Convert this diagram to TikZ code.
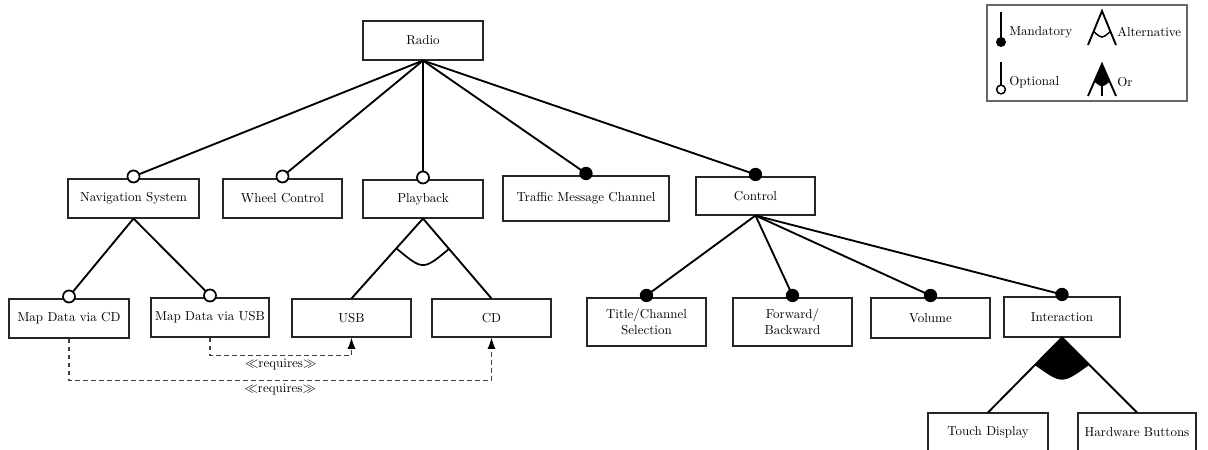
\documentclass[tikz,border=0pt]{standalone}
\usetikzlibrary{calc,arrows.meta}
\begin{document}
\begin{tikzpicture}[x=0.75pt,y=-0.75pt,
  every node/.style={font=\fontsize{9.75}{12}\selectfont},
  box/.style={draw=black!85, line width=0.8pt, inner sep=0pt, minimum width=89.25pt,
              minimum height=29.25pt, align=center, fill=white},
  link/.style={line width=1.4pt},
  opt/.style={draw, line width=1.3pt, fill=white, circle, inner sep=0pt, minimum size=9pt},
  man/.style={fill=black, circle, inner sep=0pt, minimum size=10pt},
  req/.style={draw=black!75, line width=0.8pt, dash pattern=on 3.5pt off 2.5pt,
              -{Latex[black,length=8.5pt,width=6pt]}},
  reqlabel/.style={below, inner sep=2pt}]

\useasboundingbox (0,0) rectangle (1208,450);
\clip (0,0) rectangle (1208,450);

% features
\node[box, minimum width=90pt] (radio) at (423,40.5) {Radio};
\node[box, minimum width=98.25pt] (nav) at (133.5,198.5) {Navigation System};
\node[box] (wheel) at (282.5,198.5) {Wheel Control};
\node[box, minimum width=90pt, minimum height=28.5pt] (play) at (423,199) {Playback};
\node[box, minimum width=124.5pt, minimum height=33.75pt] (tmc) at (586,198.5) {Traffic Message Channel};
\node[box, minimum height=28.5pt] (ctrl) at (755.5,196) {Control};

\node[box, minimum width=90pt] (mapcd) at (69,318.5) {Map Data via CD};
\node[box, minimum width=88.5pt] (mapusb) at (210,317.5) {Map Data via USB};
\node[box, minimum height=28.5pt] (usb) at (351.5,318) {USB};
\node[box, minimum height=28.5pt] (cd) at (491.5,318) {CD};
\node[box, minimum height=36pt] (title) at (646.5,322) {Title/Channel\\Selection};
\node[box, minimum height=36pt] (fwd) at (792.5,322) {Forward/\\Backward};
\node[box, minimum height=30pt] (vol) at (930.5,318) {Volume};
\node[box, minimum width=87pt, minimum height=30pt] (inter) at (1062,317) {Interaction};
\node[box, minimum width=90pt] (touch) at (988,432.5) {Touch Display};
\node[box, minimum width=88.5pt] (hw) at (1137,432.5) {Hardware Buttons};

% optional / mandatory children
\foreach \c/\p/\k in {nav/radio/opt, wheel/radio/opt, play/radio/opt, tmc/radio/man, ctrl/radio/man,
                      mapcd/nav/opt, mapusb/nav/opt,
                      title/ctrl/man, fwd/ctrl/man, vol/ctrl/man, inter/ctrl/man}
  \draw[link] (\p.south) -- ($(\c.north)+(0,-2)$) node[\k] (\c-dot) {};

% alternative group
\draw[link] (usb.north) -- (play.south) -- (cd.north);
\draw[line width=1.3pt] ($(play.south)!30pt!(usb.north)$) .. controls ($(play.south)+(0,52)$) .. ($(play.south)!30pt!(cd.north)$);

% or group
\fill (inter.south) -- ($(inter.south)!29pt!(touch.north)$) .. controls ($(inter.south)+(0,47)$) .. ($(inter.south)!29pt!(hw.north)$) -- cycle;
\draw[link] (touch.north) -- (inter.south) -- (hw.north);

% requires constraints
\draw[req] (mapusb.south) -- ++(0,18) -| node[reqlabel, pos=0.25] {$\ll$requires$\gg$} (usb.south);
\draw[req] (mapcd.south) -- ++(0,42) -| node[reqlabel, pos=0.25] {$\ll$requires$\gg$} (cd.south);

% legend
\draw[draw=black!60, line width=1.5pt] (987,5) rectangle (1187,101);
\draw[link] (1001,12) -- (1001,40);
\fill (1001,42) circle[radius=3.75pt];
\draw[link] (1001,62) -- (1001,86);
\draw[line width=1.1pt, fill=white] (1001,89.5) circle[radius=3.3pt];
\node[anchor=west, inner sep=0pt] (lmand) at (1009,32) {Mandatory};
\node[anchor=west, inner sep=0pt] (lopt) at (1009,82) {Optional};

\coordinate (alta) at (1102,11);
\coordinate (altl) at (1088,45);
\coordinate (altr) at (1116,45);
\draw[link] (altl) -- (alta) -- (altr);
\draw[line width=1.1pt] ($(alta)!0.6!(altl)$) .. controls ($(alta)+(0,28)$) .. ($(alta)!0.6!(altr)$);
\node[anchor=west, inner sep=0pt] (lalt) at (1117,32) {Alternative};

\coordinate (ora) at (1102,64);
\coordinate (orl) at (1088,96);
\coordinate (orr) at (1116,96);
\coordinate (orm) at (1102,96);
\fill (ora) -- ($(ora)!0.55!(orl)$) .. controls ($(ora)+(0,24)$) .. ($(ora)!0.55!(orr)$) -- cycle;
\draw[link] (orl) -- (ora) -- (orr);
\draw[link] (ora) -- (orm);
\node[anchor=west, inner sep=0pt] (lor) at (1117,82) {Or};
\end{tikzpicture}
\end{document}
